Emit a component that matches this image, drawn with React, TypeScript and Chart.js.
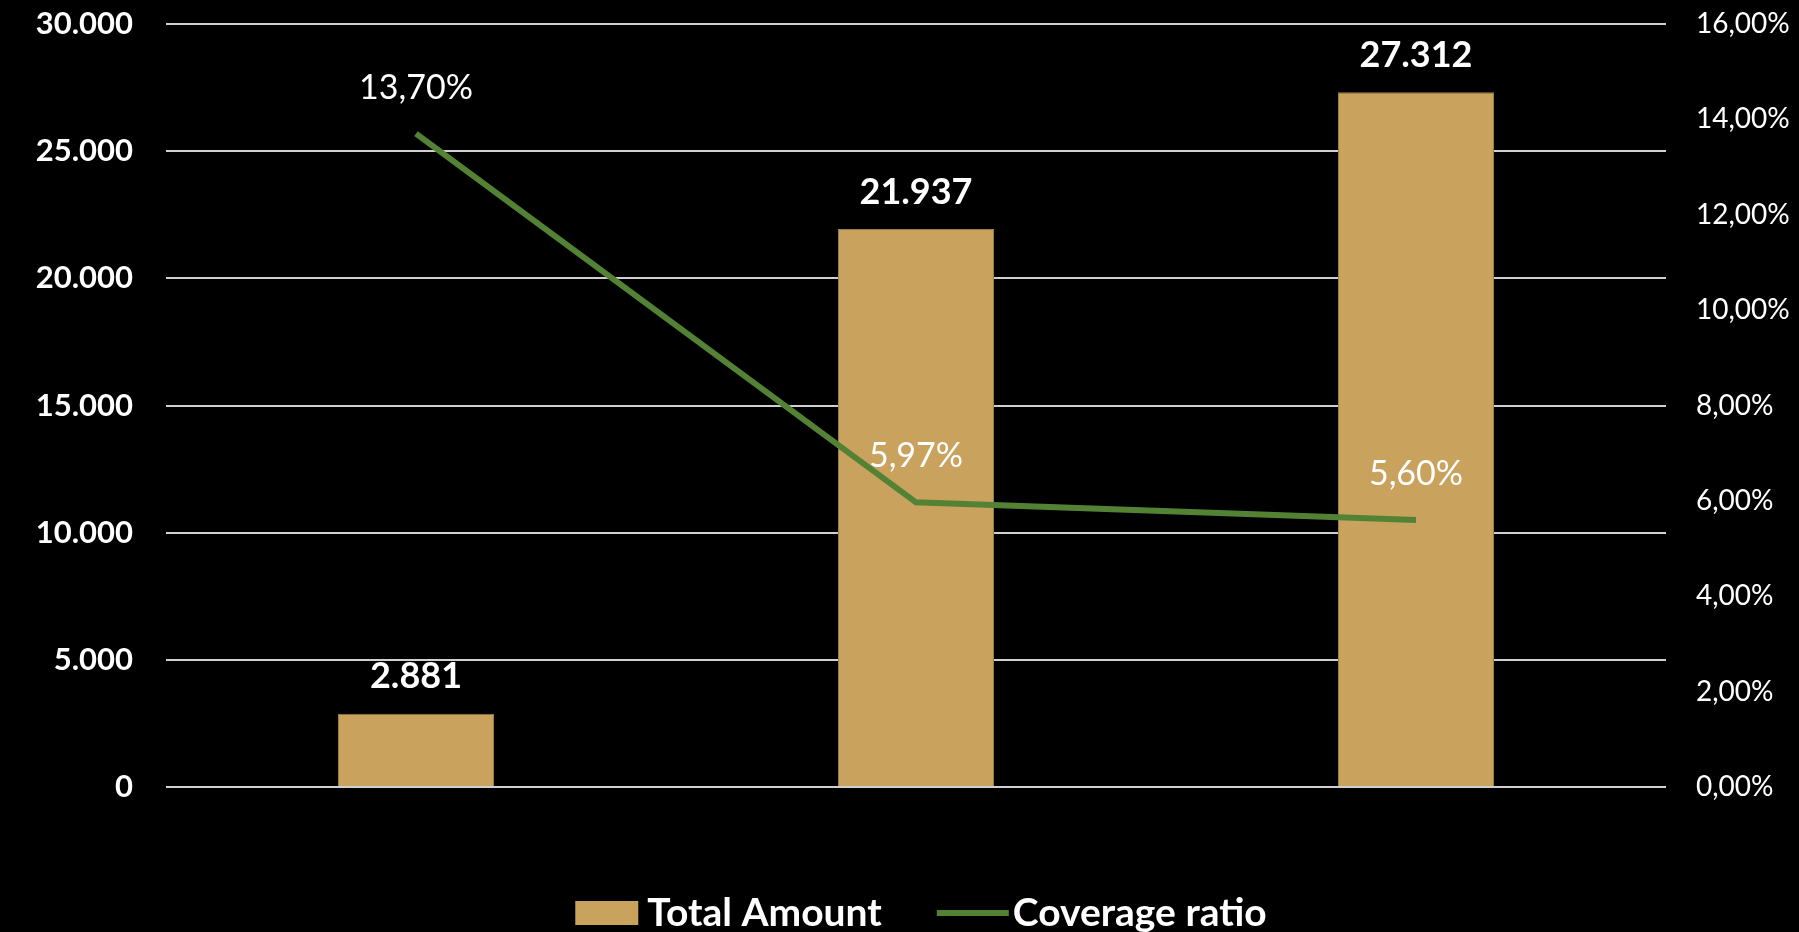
import React, { useEffect, useRef } from "react";
import { Chart, registerables } from "chart.js";

Chart.register(...registerables);

// ---- data ----
const categories: string[] = ["", "", ""];
const totalAmount: number[] = [2881, 21937, 27312];
const coverageRatio: number[] = [13.7, 5.97, 5.6];
const seriesNames: string[] = ["Total Amount", "Coverage ratio"];
const leftTicks: number[] = [0, 5000, 10000, 15000, 20000, 25000, 30000];
const rightTicks: number[] = [0, 2, 4, 6, 8, 10, 12, 14, 16];

const BAR_COLOR = "#C9A35D";
const LINE_COLOR = "#548235";
const FONT = "Lato, 'Open Sans', sans-serif";

const fmtThousands = (v: number) =>
  String(Math.round(v)).replace(/\B(?=(\d{3})+(?!\d))/g, ".");
const fmtPct = (v: number) => v.toFixed(2).replace(".", ",") + "%";

const valueLabels = {
  id: "valueLabels",
  afterDatasetsDraw(chart: any) {
    const ctx = chart.ctx;
    ctx.save();
    ctx.textAlign = "center";
    ctx.textBaseline = "middle";
    ctx.fillStyle = "#ffffff";
    const barMeta = chart.getDatasetMeta(1);
    barMeta.data.forEach((el: any, i: number) => {
      ctx.font = `bold 36px ${FONT}`;
      ctx.fillText(fmtThousands(totalAmount[i]), el.x, el.y - 37);
    });
    const lineMeta = chart.getDatasetMeta(0);
    lineMeta.data.forEach((el: any, i: number) => {
      ctx.font = `normal 34px ${FONT}`;
      ctx.fillText(fmtPct(coverageRatio[i]), el.x, el.y - 46);
    });
    ctx.restore();
  },
};

const customLegend = {
  id: "customLegend",
  afterDraw(chart: any) {
    const ctx = chart.ctx;
    const area = chart.chartArea;
    ctx.save();
    ctx.font = `bold 39px ${FONT}`;
    ctx.textBaseline = "middle";
    ctx.textAlign = "left";
    const w1 = ctx.measureText(seriesNames[0]).width;
    const w2 = ctx.measureText(seriesNames[1]).width;
    const box = 63;
    const lineW = 72;
    const total = box + 9 + w1 + 55 + lineW + 4 + w2;
    const cx = (area.left + area.right) / 2 + 5;
    const cy = 913;
    let x = cx - total / 2;
    ctx.fillStyle = BAR_COLOR;
    ctx.fillRect(x, cy - 12, box, 24);
    x += box + 9;
    ctx.fillStyle = "#ffffff";
    ctx.fillText(seriesNames[0], x, cy);
    x += w1 + 55;
    ctx.strokeStyle = LINE_COLOR;
    ctx.lineWidth = 6;
    ctx.beginPath();
    ctx.moveTo(x, cy);
    ctx.lineTo(x + lineW, cy);
    ctx.stroke();
    x += lineW + 4;
    ctx.fillText(seriesNames[1], x, cy);
    ctx.restore();
  },
};

export default function App() {
  const ref = useRef<HTMLCanvasElement | null>(null);

  useEffect(() => {
    if (!ref.current) return;
    const chart = new Chart(ref.current, {
      type: "bar",
      data: {
        labels: categories,
        datasets: [
          {
            type: "line",
            label: seriesNames[1],
            data: coverageRatio,
            yAxisID: "y1",
            borderColor: LINE_COLOR,
            backgroundColor: LINE_COLOR,
            borderWidth: 6,
            pointRadius: 0,
            tension: 0,
            order: 0,
          } as any,
          {
            type: "bar",
            label: seriesNames[0],
            data: totalAmount,
            yAxisID: "y",
            backgroundColor: BAR_COLOR,
            borderColor: "#9a7c45",
            borderWidth: 1,
            barPercentage: 0.312,
            categoryPercentage: 1,
            order: 1,
          },
        ],
      },
      options: {
        responsive: false,
        animation: false,
        layout: { padding: { top: 24, left: 0, right: 0, bottom: 0 } },
        plugins: {
          legend: { display: false },
          tooltip: { enabled: false },
        },
        scales: {
          x: {
            grid: { display: false },
            border: { display: false },
            ticks: { display: false },
            afterFit: (s: any) => {
              s.height = 145;
            },
          },
          y: {
            position: "left",
            min: 0,
            max: 30000,
            afterBuildTicks: (s: any) => {
              s.ticks = leftTicks.map((v) => ({ value: v }));
            },
            grid: { color: "#d0d0d0", lineWidth: 2, drawTicks: false },
            border: { display: false },
            ticks: {
              color: "#ffffff",
              padding: 33,
              font: { family: FONT, size: 31, weight: "bold" },
              callback: (v: any) => fmtThousands(Number(v)),
            },
            afterFit: (s: any) => {
              s.width = 166;
              s.paddingTop = 0;
              s.paddingBottom = 0;
            },
          },
          y1: {
            position: "right",
            min: 0,
            max: 16,
            afterBuildTicks: (s: any) => {
              s.ticks = rightTicks.map((v) => ({ value: v }));
            },
            grid: { display: false, drawTicks: false },
            border: { display: false },
            ticks: {
              color: "#ffffff",
              padding: 30,
              font: { family: FONT, size: 28, weight: "normal" },
              callback: (v: any) => fmtPct(Number(v)),
            },
            afterFit: (s: any) => {
              s.width = 133;
              s.paddingTop = 0;
              s.paddingBottom = 0;
            },
          },
        },
      } as any,
      plugins: [valueLabels, customLegend],
    });
    return () => chart.destroy();
  }, []);

  return (
    <div
      style={{
        position: "fixed",
        left: 0,
        top: 0,
        width: 1799,
        height: 932,
        background: "#000000",
        overflow: "hidden",
      }}
    >
      <canvas ref={ref} width={1799} height={932} style={{ display: "block" }} />
    </div>
  );
}
